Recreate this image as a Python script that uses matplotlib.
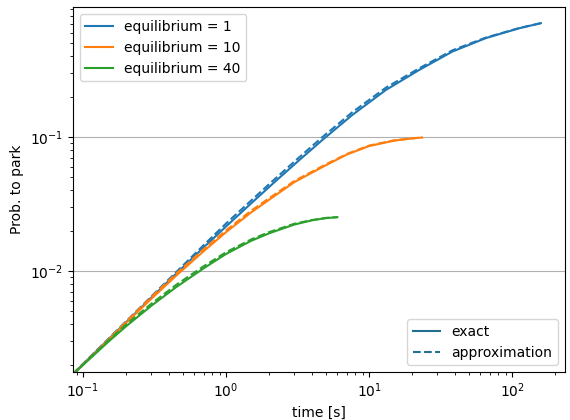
import matplotlib
matplotlib.use("Agg")
import matplotlib.pyplot as plt
from matplotlib.lines import Line2D

# values (log-log axes)
t_eq1 = [0.085, 0.1, 0.15, 0.2, 0.3, 0.45, 0.7, 1, 1.5, 2.2, 3.2, 4.72, 7.64, 13.1, 22.4, 38.3, 65.5, 112, 159]
exact_eq1 = [0.00171, 0.00202, 0.00308, 0.00415, 0.00632, 0.00959, 0.01505, 0.0215, 0.032, 0.0464,
             0.0662, 0.095, 0.146, 0.224, 0.316, 0.434, 0.546, 0.647, 0.706]
approx_eq1 = [0.00171, 0.00203, 0.00311, 0.00421, 0.00645, 0.00985, 0.01565, 0.0226, 0.0336, 0.0487,
              0.0695, 0.0998, 0.153, 0.233, 0.325, 0.443, 0.551, 0.649, 0.706]

t_eq10 = [0.085, 0.1, 0.15, 0.2, 0.3, 0.45, 0.7, 1, 1.5, 2, 3, 5, 7, 10, 15, 20, 23.5]
exact_eq10 = [0.0017, 0.002, 0.00305, 0.0041, 0.0062, 0.00927, 0.0141, 0.0195, 0.0274, 0.034, 0.046,
              0.0616, 0.074, 0.0855, 0.0939, 0.0975, 0.099]
approx_eq10 = [0.0017, 0.00201, 0.00308, 0.00418, 0.00639, 0.0096, 0.0146, 0.0201, 0.0282, 0.0349,
               0.0469, 0.0625, 0.0747, 0.0862, 0.0944, 0.0977, 0.099]

t_eq40 = [0.085, 0.1, 0.15, 0.2, 0.3, 0.45, 0.7, 1, 1.5, 2, 3, 4, 5, 6]
exact_eq40 = [0.00169, 0.00199, 0.00296, 0.00387, 0.0055, 0.00761, 0.0105, 0.0134, 0.0168, 0.0191,
              0.0222, 0.0239, 0.0248, 0.0252]
approx_eq40 = [0.00169, 0.00201, 0.00302, 0.00399, 0.00569, 0.00791, 0.01087, 0.0138, 0.0172, 0.0195,
               0.0225, 0.0240, 0.0249, 0.0252]

fig = plt.figure(figsize=(5.7, 4.2), dpi=100)
ax = fig.add_axes([0.128, 0.114, 0.863, 0.869])

series = [
    (t_eq1, exact_eq1, approx_eq1, 'C0', 'equilibrium = 1'),
    (t_eq10, exact_eq10, approx_eq10, 'C1', 'equilibrium = 10'),
    (t_eq40, exact_eq40, approx_eq40, 'C2', 'equilibrium = 40'),
]
handles = []
for t, ex, ap, c, lab in series:
    h, = ax.plot(t, ex, color=c, lw=1.5, label=lab)
    ax.plot(t, ap, color=c, lw=1.5, ls='--')
    handles.append(h)

ax.set_xscale('log')
ax.set_yscale('log')
ax.set_xlim(0.085, 234)
ax.set_ylim(0.00176, 0.93)
ax.grid(True, axis='y', which='major')
ax.set_xlabel('time [s]')
ax.set_ylabel('Prob. to park')

leg1 = ax.legend(handles=handles, loc='upper left')
ax.add_artist(leg1)
style_handles = [Line2D([], [], color='#22708f', lw=1.5, ls='-'),
                 Line2D([], [], color='#22708f', lw=1.5, ls='--')]
ax.legend(style_handles, ['exact', 'approximation'], loc='lower right')

fig.savefig('out.png')
